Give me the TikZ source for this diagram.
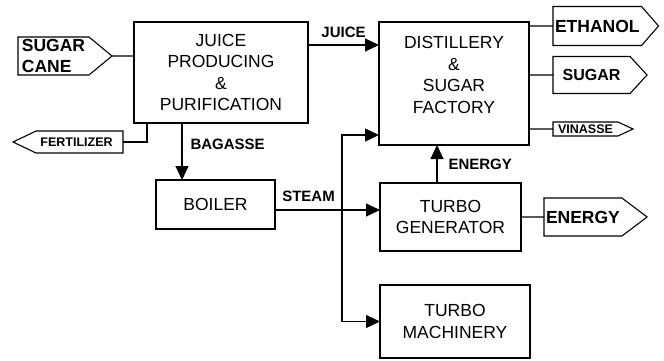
\documentclass[tikz,border=0pt]{standalone}
\usepackage{fontspec}
\setmainfont{Liberation Sans}
\usetikzlibrary{arrows.meta,positioning,shapes.symbols}
\tikzset{
  unit/.style={draw, line width=1.1pt, align=center, inner sep=0pt, outer sep=0pt,
               font=\fontsize{17.5}{21.5}\selectfont},
  port/.style={draw, line width=1.1pt, signal, signal from=nowhere, align=left,
               inner ysep=0pt, inner xsep=2pt, outer sep=0pt,
               font=\fontsize{17.5}{21}\selectfont\bfseries},
  smallport/.style={port, font=\fontsize{12.5}{14}\selectfont\bfseries},
  tag/.style={font=\fontsize{15}{18}\selectfont\bfseries, inner sep=0pt},
  flow/.style={-{Triangle[length=14pt,width=13pt]}, line width=1.1pt},
  link/.style={line width=1.1pt},
}
\begin{document}
\begin{tikzpicture}[x=1pt, y=-1pt]
  \useasboundingbox (0,0) rectangle (664,360);

  % process units
  \node[unit, minimum width=174pt, minimum height=101pt, anchor=north west] (juice) at (134,22)
    {JUICE\\PRODUCING\\\&\\PURIFICATION};
  \node[unit, minimum width=150pt, minimum height=123pt,
        right=71pt of juice.north east, anchor=north west] (distill)
    {DISTILLERY\\\&\\SUGAR\\FACTORY\\[-11pt]\strut};
  \node[unit, minimum width=119pt, minimum height=49pt,
        below right=57pt and 22pt of juice.south west] (boiler) {BOILER};
  \node[unit, minimum width=141pt, minimum height=68pt,
        below right=38pt and 1pt of distill.south west] (turbogen) {TURBO\\GENERATOR};
  \node[unit, minimum width=150pt, minimum height=73pt,
        below=34pt of turbogen.south west, anchor=north west] (turbomach) {TURBO\\MACHINERY};

  % inputs and products
  \node[port, signal to=east, signal pointer angle=79, minimum width=94pt, minimum height=38pt,
        left=22pt of juice.west, yshift=16.5pt] (cane) {SUGAR\\CANE};
  \node[smallport, signal to=west, signal pointer angle=51, minimum width=110pt, minimum height=22pt,
        left=11pt of juice.south west, yshift=-19pt] (fert) {FERTILIZER\hspace{6pt}};
  \node[port, signal to=east, signal pointer angle=98, minimum width=104pt, minimum height=39pt,
        right=24pt of distill.north east, yshift=-4pt] (ethanol) {ETHANOL};
  \node[port, signal to=east, signal pointer angle=95, minimum width=94pt, minimum height=37pt,
        font=\fontsize{16}{21}\selectfont\bfseries,
        right=24pt of distill.east, yshift=8.5pt] (sugar) {SUGAR};
  \node[smallport, signal to=east, signal pointer angle=50, minimum width=80pt, minimum height=14pt,
        right=24pt of distill.south east, yshift=16pt] (vinasse) {VINASSE};
  \node[port, signal to=east, signal pointer angle=74, minimum width=98pt, minimum height=38pt,
        right=23pt of turbogen] (power) {ENERGY};

  \coordinate (tap) at ([xshift=-38pt, yshift=7pt]turbogen.west);

  % streams
  \draw[link] (cane) -- (cane -| juice.west);
  \draw[link] ([xshift=13pt]juice.south west) |- (fert);
  \draw[flow] ([xshift=48pt]juice.south west) -- ([xshift=26pt]boiler.north west)
    node[tag, pos=0.38, right=8pt] {BAGASSE};
  \draw[flow] ([yshift=-23pt]juice.north east) -- ([yshift=-23pt]distill.north west)
    node[tag, midway, above=7pt] {JUICE};
  \draw[link] (boiler.east |- tap) -- (tap) node[tag, midway, above=8pt] {STEAM};
  \draw[flow] (tap) -- (turbogen.west |- tap);
  \draw[flow] (tap) |- ([yshift=10pt]distill.south west);
  \draw[flow] (tap) |- (turbomach);
  \draw[flow] ([xshift=57pt]turbogen.north west) -- ([xshift=58pt]distill.south west)
    node[tag, midway, right=11pt] {ENERGY};
  \draw[link] (turbogen) -- (power);
  \draw[link] (ethanol) -- (ethanol -| distill.east);
  \draw[link] (sugar) -- (sugar -| distill.east);
  \draw[link] (vinasse) -- (vinasse -| distill.east);
\end{tikzpicture}
\end{document}
